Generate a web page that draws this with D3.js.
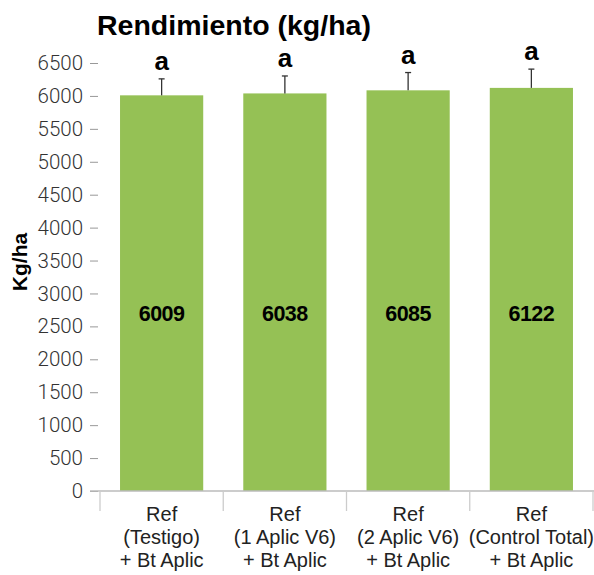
<!DOCTYPE html>
<html><head><meta charset="utf-8">
<script src="https://cdn.jsdelivr.net/npm/d3@7"></script>
<style>
html,body{margin:0;padding:0;background:#fff;}
svg{display:block;}
</style></head>
<body>
<svg id="chart" width="594" height="575"></svg>
<script>
const categories = [
  ["Ref", "(Testigo)", "+ Bt Aplic"],
  ["Ref", "(1 Aplic V6)", "+ Bt Aplic"],
  ["Ref", "(2 Aplic V6)", "+ Bt Aplic"],
  ["Ref", "(Control Total)", "+ Bt Aplic"]
];
const values = [6009, 6038, 6085, 6122];
const errors = [250, 265, 270, 285];
const letters = ["a", "a", "a", "a"];
const yTicks = d3.range(0, 6501, 500);

const svg = d3.select("#chart");
const x = d3.scaleBand().domain(d3.range(values.length)).range([100, 593]).paddingInner(0.325).paddingOuter(0.1625);
const y = d3.scaleLinear().domain([0, 6500]).range([491, 63]);
const barColor = "#95c155";

// title
svg.append("text").attr("x", 97).attr("y", 35)
  .attr("font-family", "Liberation Sans, Arial, sans-serif").attr("font-weight", "bold")
  .attr("font-size", 28.5).attr("fill", "#000")
  .text("Rendimiento (kg/ha)");

// y axis label
svg.append("text").attr("transform", "translate(27,262) rotate(-90)")
  .attr("text-anchor", "middle")
  .attr("font-family", "Liberation Sans, Arial, sans-serif").attr("font-weight", "bold")
  .attr("font-size", 21).attr("fill", "#000").text("Kg/ha");

// y axis
const yAxis = d3.axisLeft(y).tickValues(yTicks).tickSize(8).tickPadding(7).tickFormat(d3.format("d"));
const gy = svg.append("g").attr("transform", "translate(98,0)").call(yAxis);
gy.select(".domain").remove();
gy.selectAll(".tick line").attr("stroke", "#999");
gy.selectAll(".tick text").attr("font-family", "Roboto, sans-serif").attr("font-weight", 300)
  .attr("font-size", 20.5).attr("fill", "#333");

// bars
const g = svg.append("g");
g.selectAll("rect.bar").data(values).join("rect").attr("class", "bar")
  .attr("x", (d, i) => x(i)).attr("width", x.bandwidth())
  .attr("y", d => y(d)).attr("height", d => y(0) - y(d)).attr("fill", barColor);

// error bars
const cx = i => x(i) + x.bandwidth() / 2;
const eb = g.selectAll("g.err").data(values).join("g").attr("class", "err");
eb.append("line").attr("x1", (d, i) => cx(i)).attr("x2", (d, i) => cx(i))
  .attr("y1", d => y(d)).attr("y2", (d, i) => y(d + errors[i])).attr("stroke", "#333").attr("stroke-width", 1.3);
eb.append("line").attr("x1", (d, i) => cx(i) - 3).attr("x2", (d, i) => cx(i) + 3)
  .attr("y1", (d, i) => y(d + errors[i])).attr("y2", (d, i) => y(d + errors[i])).attr("stroke", "#333").attr("stroke-width", 1.3);

// significance letters
g.selectAll("text.sig").data(values).join("text").attr("class", "sig")
  .attr("x", (d, i) => cx(i)).attr("y", (d, i) => y(d + errors[i]) - 9)
  .attr("text-anchor", "middle").attr("font-family", "Liberation Sans, Arial, sans-serif")
  .attr("font-weight", "bold").attr("font-size", 26).attr("fill", "#000")
  .text((d, i) => letters[i]);

// value labels
const labelValue = 2700;
g.selectAll("text.val").data(values).join("text").attr("class", "val")
  .attr("x", (d, i) => cx(i)).attr("y", y(labelValue) + 7.5)
  .attr("text-anchor", "middle").attr("font-family", "Liberation Sans, Arial, sans-serif")
  .attr("font-weight", "bold").attr("font-size", 21.5).attr("letter-spacing", -0.5).attr("fill", "#000")
  .text(d => d);

// baseline & category separators
svg.append("line").attr("x1", 90).attr("x2", 594).attr("y1", y(0)).attr("y2", y(0)).attr("stroke", "#bbb").attr("stroke-width", 1.3);
const half = x.step() * x.paddingInner() / 2;
const bounds = d3.range(values.length).map(i => x(i) - half).concat([x(values.length - 1) + x.bandwidth() + half]);
svg.selectAll("line.sep").data(bounds).join("line").attr("class", "sep")
  .attr("x1", d => d).attr("x2", d => d).attr("y1", y(0)).attr("y2", y(0) + 20)
  .attr("stroke", "#ccc").attr("stroke-width", 1.3);

// category labels
const baselines = [521, 544, 567];
categories.forEach((lines, i) => {
  lines.forEach((t, j) => {
    svg.append("text").attr("x", cx(i)).attr("y", baselines[j])
      .attr("text-anchor", "middle").attr("font-family", "Liberation Sans, Arial, sans-serif")
      .attr("font-size", 20).attr("fill", "#222").text(t);
  });
});
</script>
</body></html>
